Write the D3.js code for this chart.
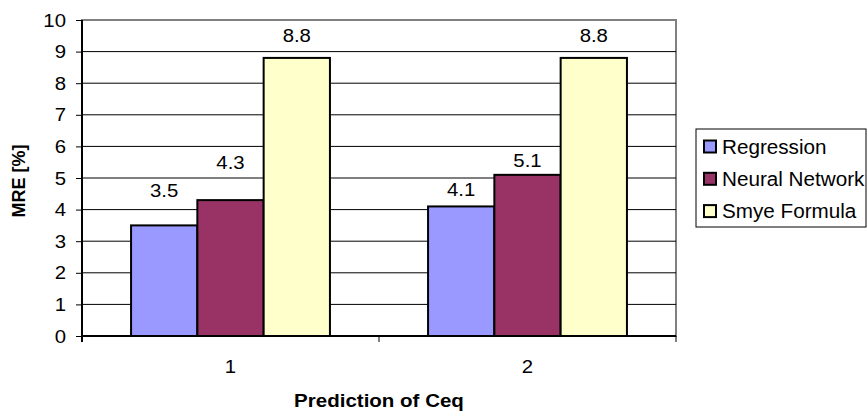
<!DOCTYPE html>
<html><head><meta charset="utf-8">
<script src="https://cdn.jsdelivr.net/npm/d3@7"></script>
<style>body{margin:0;background:#fff}svg{display:block;font-family:Arial,"Liberation Sans",sans-serif}</style>
</head><body><svg id="c" width="867" height="414"></svg>
<script>
const categories = ["1", "2"];
const seriesNames = ["Regression", "Neural Network", "Smye Formula"];
const regression = [3.5, 4.1];
const neuralNetwork = [4.3, 5.1];
const smyeFormula = [8.8, 8.8];
const yTicks = [0,1,2,3,4,5,6,7,8,9,10];
const colors = ["#9999FF", "#993366", "#FFFFCC"];
// label offsets above bar tops (layout, as placed in the original)
const labelOffsets = [[28, 31, 16], [10, 8, 16]];

const values = [regression, neuralNetwork, smyeFormula];
const svg = d3.select("#c");
const L = 82, R = 676, T = 20, B = 336;
const FONT = "Arial, 'Liberation Sans', sans-serif";

const x0 = d3.scaleBand().domain(categories).range([L, R]).paddingInner(0).paddingOuter(0);
const x1 = d3.scaleBand().domain(seriesNames).range([0, x0.bandwidth()]).paddingInner(0).paddingOuter(0.74);
const y = d3.scaleLinear().domain([0, 10]).range([B, T]);

// plot border
svg.append("rect").attr("x", L).attr("y", T).attr("width", R - L).attr("height", B - T)
  .attr("fill", "none").attr("stroke", "#808080").attr("stroke-width", 2);

// gridlines
svg.append("g").selectAll("line").data(yTicks.filter(d => d > 0 && d < 10)).join("line")
  .attr("x1", L).attr("x2", R).attr("y1", d => y(d)).attr("y2", d => y(d))
  .attr("stroke", "#000").attr("stroke-width", 1);

// helper: horizontally stretched text
function stext(g, x, yy, str, size, anchor, sx, weight) {
  const t = g.append("text").attr("transform", `translate(${x},${yy}) scale(${sx},1)`)
    .attr("text-anchor", anchor).attr("font-size", size).attr("font-family", FONT)
    .attr("fill", "#000").text(str);
  if (weight) t.attr("font-weight", weight);
  return t;
}

// bars
categories.forEach((c, ci) => {
  seriesNames.forEach((s, si) => {
    const v = values[si][ci];
    const bx = x0(c) + x1(s);
    svg.append("rect").attr("x", bx).attr("y", y(v)).attr("width", x1.bandwidth()).attr("height", B - y(v))
      .attr("fill", colors[si]).attr("stroke", "#000").attr("stroke-width", 2);
    stext(svg, bx + x1.bandwidth() / 2, y(v) - labelOffsets[ci][si], v.toFixed(1), 18.5, "middle", 1.1);
  });
});

// y axis
const yAxis = d3.axisLeft(y).tickValues(yTicks).tickSize(6).tickFormat(() => "");
const gy = svg.append("g").attr("transform", `translate(${L},0)`).call(yAxis);
gy.select(".domain").attr("stroke", "#000").attr("stroke-width", 2).attr("d", `M0,${T}V${B+6}`);
gy.selectAll(".tick line").attr("stroke", "#000");
yTicks.forEach(t => stext(svg, 66, y(t) + 6.5, String(t), 18.5, "end", 1.1));

// x axis
const gx = svg.append("g");
gx.append("line").attr("x1", L).attr("x2", R).attr("y1", B).attr("y2", B).attr("stroke", "#000").attr("stroke-width", 2);
const bounds = [L, ...categories.map(c => x0(c) + x0.bandwidth())];
gx.selectAll(".tk").data(bounds).join("line").attr("class", "tk")
  .attr("x1", d => d).attr("x2", d => d).attr("y1", B).attr("y2", B + 6).attr("stroke", "#000");
categories.forEach(c => stext(gx, x0(c) + x0.bandwidth() / 2, 373, c, 18.5, "middle", 1.1));

// axis titles
stext(svg, 379, 407, "Prediction of Ceq", 19, "middle", 1.08, "bold");
svg.append("text").attr("transform", "translate(25,181) rotate(-90)").attr("text-anchor", "middle")
  .attr("font-size", 18).attr("font-weight", "bold").attr("font-family", FONT).text("MRE [%]");

// legend
const lg = svg.append("g");
lg.append("rect").attr("x", 696).attr("y", 129).attr("width", 170).attr("height", 98)
  .attr("fill", "#fff").attr("stroke", "#000").attr("stroke-width", 1);
seriesNames.forEach((s, i) => {
  const cy = 146.5 + i * 32.3;
  lg.append("rect").attr("x", 704).attr("y", cy - 6).attr("width", 12).attr("height", 12)
    .attr("fill", colors[i]).attr("stroke", "#000").attr("stroke-width", 2);
  stext(lg, 722, cy + 7, s, 19.5, "start", 1.06);
});
</script></body></html>
